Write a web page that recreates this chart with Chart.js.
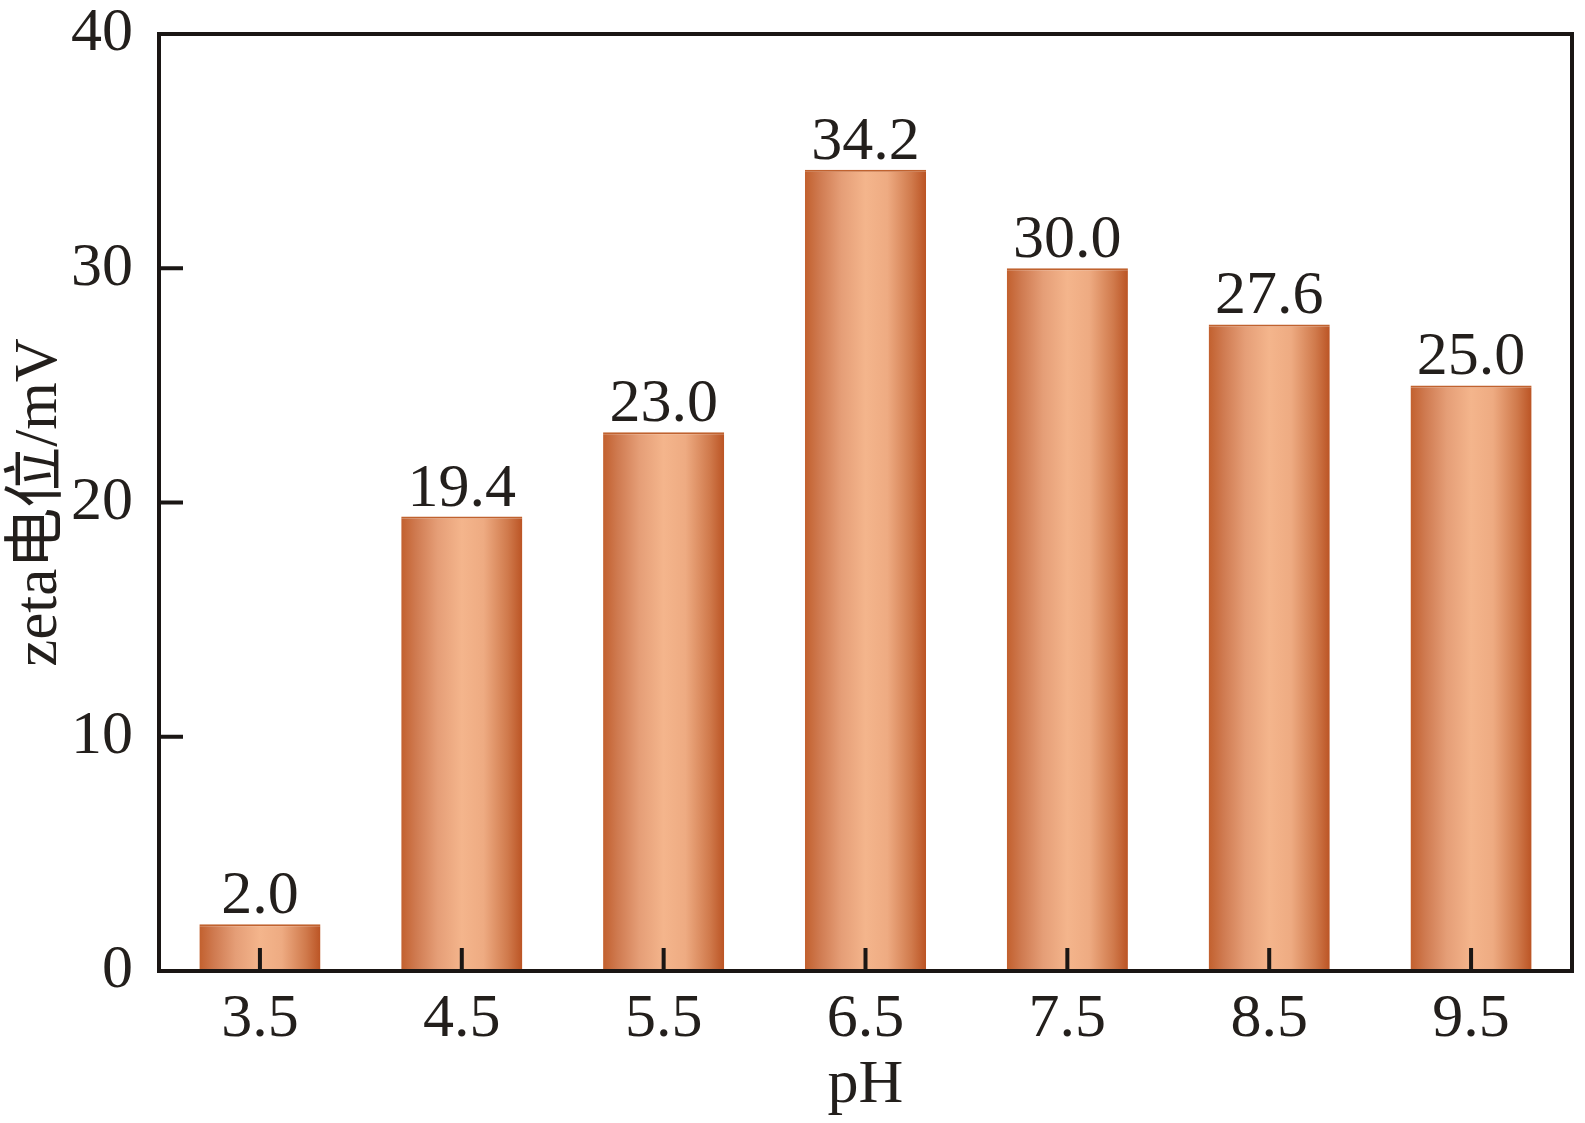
<!DOCTYPE html>
<html>
<head>
<meta charset="utf-8">
<script src="https://cdn.jsdelivr.net/npm/chart.js@4"></script>
<style>
  html, body { margin: 0; padding: 0; background: #fff; }
  #wrap { width: 1585px; height: 1123px; }
</style>
</head>
<body>
<div id="wrap"><canvas id="myChart" width="1585" height="1123"></canvas></div>
<script>
const labels = ['3.5', '4.5', '5.5', '6.5', '7.5', '8.5', '9.5'];
const zeta = [2.0, 19.4, 23.0, 34.2, 30.0, 27.6, 25.0];
const yTicks = [0, 10, 20, 30, 40];

const ink = '#231f1c';
const fontFamily = 'Liberation Serif, Noto Sans CJK SC';

function barFill(c) {
    const chart = c.chart;
    const xs = chart.scales.x;
    if (!chart.chartArea || !xs) return '#e39a70';
    const cx = xs.getPixelForValue(c.dataIndex);
    const w = xs.width / labels.length * 0.6;
    const g = chart.ctx.createLinearGradient(cx - w / 2, 0, cx + w / 2, 0);
    g.addColorStop(0, '#c2602e');
    g.addColorStop(0.12, '#cf7a50');
    g.addColorStop(0.3, '#e59e77');
    g.addColorStop(0.5, '#f4b58c');
    g.addColorStop(0.68, '#eeab82');
    g.addColorStop(0.88, '#d07a4c');
    g.addColorStop(1, '#bb5424');
    return g;
}

// frame, inward ticks and value labels
const frame = {
    id: 'frame',
    afterDatasetsDraw(chart) {
        const ctx = chart.ctx;
        const a = chart.chartArea;
        const xs = chart.scales.x, ys = chart.scales.y;
        ctx.save();
        ctx.strokeStyle = '#1a1614';
        ctx.lineWidth = 4;
        ctx.beginPath();
        yTicks.forEach(v => {
            if (v === 0 || v === 40) return;
            const y = ys.getPixelForValue(v);
            ctx.moveTo(a.left, y);
            ctx.lineTo(a.left + 24, y);
        });
        labels.forEach((l, i) => {
            const x = xs.getPixelForValue(i);
            ctx.moveTo(x, a.bottom);
            ctx.lineTo(x, a.bottom - 23);
        });
        ctx.stroke();
        ctx.strokeRect(a.left, a.top, a.right - a.left, a.bottom - a.top);

        ctx.fillStyle = ink;
        ctx.font = '62px ' + fontFamily;
        ctx.textAlign = 'center';
        ctx.textBaseline = 'alphabetic';
        const meta = chart.getDatasetMeta(0);
        meta.data.forEach((el, i) => {
            ctx.fillText(zeta[i].toFixed(1), el.x, el.y - 11);
        });
        ctx.restore();
    }
};

const data = {
    labels: labels,
    datasets: [{
        label: 'zeta',
        data: zeta,
        backgroundColor: barFill,
        borderColor: '#c0622f',
        borderWidth: { top: 2, left: 0, right: 0, bottom: 0 },
        borderSkipped: 'bottom',
        barPercentage: 0.6,
        categoryPercentage: 1.0
    }]
};

const config = {
    type: 'bar',
    data: data,
    options: {
        responsive: false,
        animation: false,
        layout: { padding: { left: 0, right: 13, top: 34, bottom: 0 } },
        plugins: {
            legend: { display: false },
            tooltip: { enabled: false }
        },
        scales: {
            x: {
                grid: { display: false },
                border: { display: false },
                ticks: {
                    color: ink,
                    font: { family: fontFamily, size: 62 },
                    padding: 4
                },
                title: {
                    display: true,
                    text: 'pH',
                    color: ink,
                    font: { family: fontFamily, size: 62 },
                    padding: { top: 0, bottom: 0 }
                },
                afterFit(scale) { scale.height = 152; }
            },
            y: {
                min: 0,
                max: 40,
                afterBuildTicks(scale) { scale.ticks = yTicks.map(v => ({ value: v })); },
                grid: { display: false },
                border: { display: false },
                ticks: {
                    color: ink,
                    font: { family: fontFamily, size: 62 },
                    padding: 18
                },
                title: {
                    display: true,
                    text: 'zeta电位/mV',
                    color: ink,
                    font: { family: fontFamily, size: 61 },
                    padding: { top: 3, bottom: 0 }
                },
                afterFit(scale) {
                    scale.width = 159;
                    scale.paddingTop = 0;
                    scale.paddingBottom = 0;
                }
            }
        }
    },
    plugins: [frame]
};

const myChart = new Chart(
    document.getElementById('myChart'),
    config
);
</script>
</body>
</html>
